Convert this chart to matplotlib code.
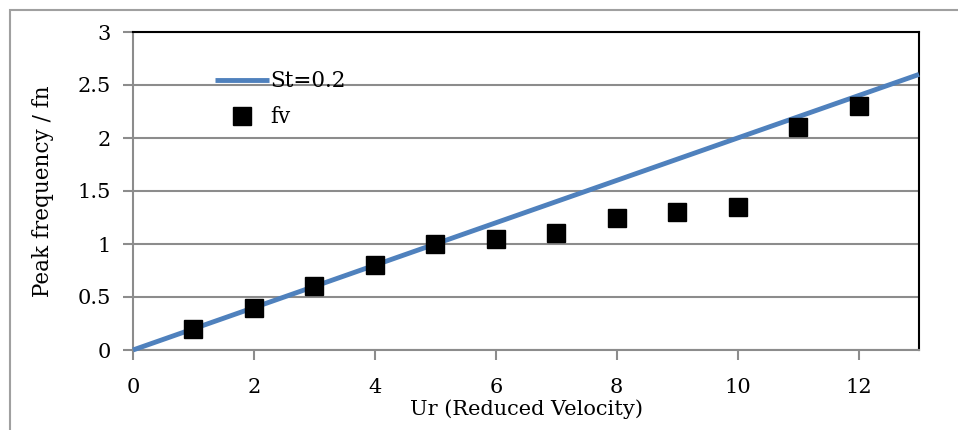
import matplotlib.pyplot as plt
import matplotlib.patches as patches

# Strouhal line St=0.2 and measured vortex shedding peaks
st_x = [0, 13]
st_y = [0, 2.6]
ur = [1, 2, 3, 4, 5, 6, 7, 8, 9, 10, 11, 12]
fv = [0.2, 0.4, 0.6, 0.8, 1.0, 1.05, 1.1, 1.25, 1.3, 1.35, 2.1, 2.3]

plt.rcParams['font.family'] = ['DejaVu Serif']

fig = plt.figure(figsize=(9.58, 4.3), dpi=100)
ax = fig.add_axes([133/958, 1 - 350/430, (919 - 133)/958, (350 - 32)/430])

# chart frame
fig.patches.append(patches.Rectangle((10/958, -0.1), 1.2, 1 - 10/430 + 0.1,
                                     transform=fig.transFigure, fill=False,
                                     edgecolor='#a0a0a0', linewidth=1.5))

ax.plot(st_x, st_y, color='#4f81bd', linewidth=3.5, solid_capstyle='butt',
        label='St=0.2', zorder=3, clip_on=False)
ax.plot(ur, fv, linestyle='none', marker='s', markersize=13, color='black',
        label='fv', zorder=4)

ax.set_xlim(0, 13)
ax.set_ylim(0, 3)
ax.set_xticks([0, 2, 4, 6, 8, 10, 12])
ax.set_yticks([0, 0.5, 1, 1.5, 2, 2.5, 3])
ax.set_yticklabels(['0', '0.5', '1', '1.5', '2', '2.5', '3'])
ax.yaxis.grid(True, color='#8c8c8c', linewidth=1.5)
ax.set_axisbelow(True)

for s in ['left', 'bottom']:
    ax.spines[s].set_color('#8c8c8c')
    ax.spines[s].set_linewidth(1.5)
for s in ['top', 'right']:
    ax.spines[s].set_color('black')
    ax.spines[s].set_linewidth(1.5)

ax.tick_params(axis='both', direction='out', color='#8c8c8c', width=1.5,
               length=7, labelsize=15)
ax.tick_params(axis='x', pad=13)
ax.tick_params(axis='y', pad=9)

ax.set_xlabel('Ur (Reduced Velocity)', fontsize=15, labelpad=2)
ax.set_ylabel('Peak frequency / fn', fontsize=15.5, labelpad=17)

ax.legend(loc='upper left', bbox_to_anchor=(0.08, 0.94), frameon=False,
          fontsize=15.5, handlelength=2.5, handletextpad=0.05, labelspacing=0.65)

fig.savefig('out.png', dpi=100)
